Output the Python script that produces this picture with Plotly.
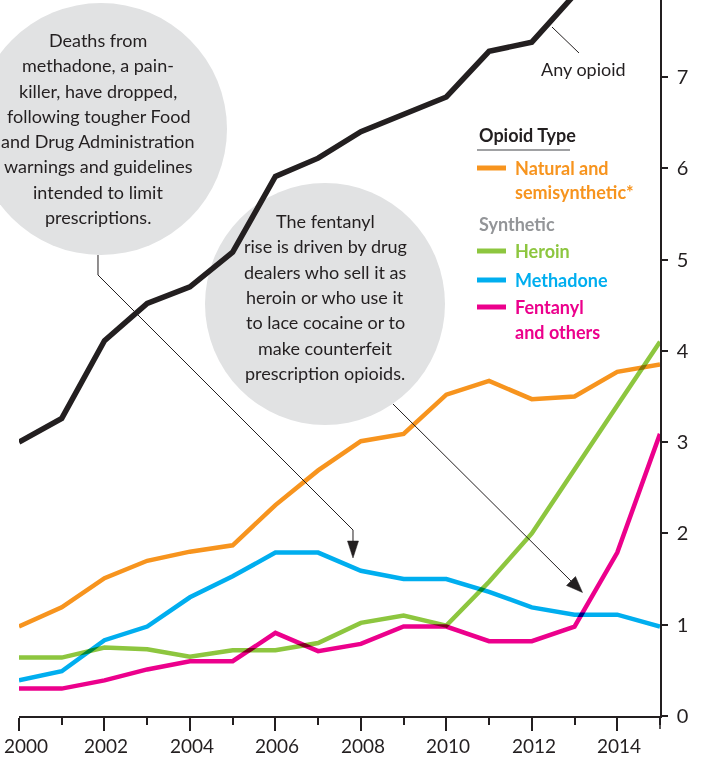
import plotly.graph_objects as go

years = list(range(2000, 2016))
any_opioid = [3.0, 3.26, 4.11, 4.52, 4.70, 5.08, 5.91, 6.11, 6.40, 6.59, 6.78, 7.28, 7.38, 7.9, 9.0, 10.4]
natural = [0.98, 1.19, 1.51, 1.70, 1.80, 1.87, 2.31, 2.69, 3.01, 3.09, 3.52, 3.67, 3.47, 3.50, 3.77, 3.85]
heroin = [0.64, 0.64, 0.75, 0.73, 0.65, 0.72, 0.72, 0.80, 1.02, 1.10, 0.99, 1.47, 2.00, 2.71, 3.40, 4.10]
methadone = [0.39, 0.49, 0.83, 0.98, 1.30, 1.53, 1.79, 1.79, 1.59, 1.50, 1.50, 1.36, 1.19, 1.11, 1.11, 0.98]
fentanyl = [0.30, 0.30, 0.39, 0.51, 0.60, 0.60, 0.91, 0.71, 0.79, 0.98, 0.98, 0.82, 0.82, 0.98, 1.79, 3.09]
y_ticks = [0, 1, 2, 3, 4, 5, 6, 7]
x_ticks = [2000, 2002, 2004, 2006, 2008, 2010, 2012, 2014]
x_labels = ["2000", "2002", "2004", "2006", "2008", "2010", "2012", "2014"]

W, H = 723, 757
L, R, T, B = 19, 660, 0, 716
FONT = "Lato, 'Liberation Sans Narrow', sans-serif"
DARK = "#231F20"
ORANGE, GREEN, BLUE, PINK = "#F7941E", "#8DC63F", "#00AEEF", "#EC008C"
BUBBLE = "#E1E2E3"


def px(x):
    return (x - L) / (R - L)


def py(y):
    return (B - y) / (B - T)


fig = go.Figure()
for vals, col, w in [(natural, ORANGE, 4.5), (heroin, GREEN, 4.5), (methadone, BLUE, 4.5),
                     (fentanyl, PINK, 4.5), (any_opioid, DARK, 5.5)]:
    fig.add_trace(go.Scatter(x=years, y=vals, mode="lines",
                             line=dict(color=col, width=w), showlegend=False,
                             hoverinfo="skip"))

shapes = []
annotations = []

# bubbles
shapes.append(dict(type="circle", xref="paper", yref="paper", x0=px(-25), x1=px(227),
                   y0=py(255), y1=py(3), fillcolor=BUBBLE, line=dict(width=0), layer="below"))
shapes.append(dict(type="circle", xref="paper", yref="paper", x0=px(205), x1=px(445),
                   y0=py(425), y1=py(183), fillcolor=BUBBLE, line=dict(width=0), layer="below"))


def path(points):
    return "M " + " L ".join(f"{px(a):.5f},{py(b):.5f}" for a, b in points)


def pline(points, width=1):
    shapes.append(dict(type="path", xref="paper", yref="paper", path=path(points),
                       line=dict(color=DARK, width=width)))


def tri(points):
    shapes.append(dict(type="path", xref="paper", yref="paper", path=path(points) + " Z",
                       fillcolor=DARK, line=dict(color=DARK, width=0.5)))


# pointer 1
pline([(98, 255), (98, 275), (353, 530), (353, 545)])
tri([(353, 558), (347.5, 541), (358.5, 541)])
# pointer 2
pline([(393, 404), (572, 582)])
tri([(582.5, 592.5), (575.5, 576.5), (566.5, 585.5)])
# any opioid leader
pline([(552, 27), (579, 53)])

# y axis extension below zero
shapes.append(dict(type="line", xref="paper", yref="paper", x0=1, x1=1, y0=py(716), y1=py(729),
                   line=dict(color=DARK, width=1.5)))


def text(x, y, s, color=DARK, size=18, anchor="center", bold=False):
    if bold:
        s = f"<b>{s}</b>"
    annotations.append(dict(xref="paper", yref="paper", x=px(x), y=py(y), text=s,
                            showarrow=False, xanchor=anchor, yanchor="middle",
                            font=dict(family=FONT, size=size, color=color)))


b1 = ["Deaths from", "methadone, a pain-", "killer, have dropped,", "following tougher Food",
      "and Drug Administration", "warnings and guidelines", "intended to limit", "prescriptions."]
for i, s in enumerate(b1):
    text(98, 40 + i * 25.3, s)

b2 = ["The fentanyl", "rise is driven by drug", "dealers who sell it as", "heroin or who use it",
      "to lace cocaine or to", "make counterfeit", "prescription opioids."]
for i, s in enumerate(b2):
    text(325, 221 + i * 25.3, s)

text(583, 69, "Any opioid")

# x labels (first one kept inside the frame)
for xv, lab in zip(x_ticks, x_labels):
    cx = L + (xv - 2000) * (R - L) / 15 + 2
    if xv == 2000:
        cx = 26
    annotations.append(dict(xref="paper", yref="paper", x=px(cx), y=py(745.5), text=lab,
                            showarrow=False, xanchor="center", yanchor="middle", borderpad=0,
                            font=dict(family=FONT, size=19, color=DARK)))

# legend
text(477, 135, "Opioid Type", anchor="left", bold=True)
shapes.append(dict(type="line", xref="paper", yref="paper", x0=px(477), x1=px(570),
                   y0=py(150), y1=py(150), line=dict(color="#808285", width=1.5)))
text(477, 224, "Synthetic", color="#939598", anchor="left", bold=True)
legend_items = [(168, ["Natural and", "semisynthetic*"], ORANGE),
                (251, ["Heroin"], GREEN),
                (280, ["Methadone"], BLUE),
                (307, ["Fentanyl", "and others"], PINK)]
for y0, lines, col in legend_items:
    shapes.append(dict(type="line", xref="paper", yref="paper", x0=px(477), x1=px(506),
                       y0=py(y0), y1=py(y0), line=dict(color=col, width=5)))
    for j, s in enumerate(lines):
        text(513, y0 + j * 24.5, s, color=col, anchor="left", bold=True)

fig.update_layout(
    width=W, height=H,
    margin=dict(l=L, r=W - R, t=T, b=H - B, pad=0, autoexpand=False),
    paper_bgcolor="white", plot_bgcolor="white",
    shapes=shapes, annotations=annotations,
    xaxis=dict(range=[2000, 2015], tickvals=x_ticks, showticklabels=False,
               ticks="outside", ticklen=13, automargin=False,
               tickwidth=1.5, tickcolor=DARK, showline=True, linewidth=2, linecolor=DARK,
               showgrid=False, zeroline=False,
               minor=dict(dtick=1, ticks="outside", ticklen=7, tickwidth=1.5, tickcolor=DARK,
                          showgrid=False)),
    yaxis=dict(range=[0, (B - T) / 91.3], side="right", tickvals=y_ticks, ticks="outside",
               ticklen=6, tickwidth=1.5, tickcolor=DARK, showline=True, linewidth=1.5,
               linecolor=DARK, showgrid=False, zeroline=False, automargin=False,
               ticklabelstandoff=5,
               tickfont=dict(family=FONT, size=20, color=DARK)),
)

post = (
    "document.body.style.margin='0px';"
    "document.querySelectorAll('.scatterlayer .js-line').forEach(function(p){"
    "p.style.mixBlendMode='multiply';});"
)
fig.write_html("out.html", post_script=post, config={"displayModeBar": False})
